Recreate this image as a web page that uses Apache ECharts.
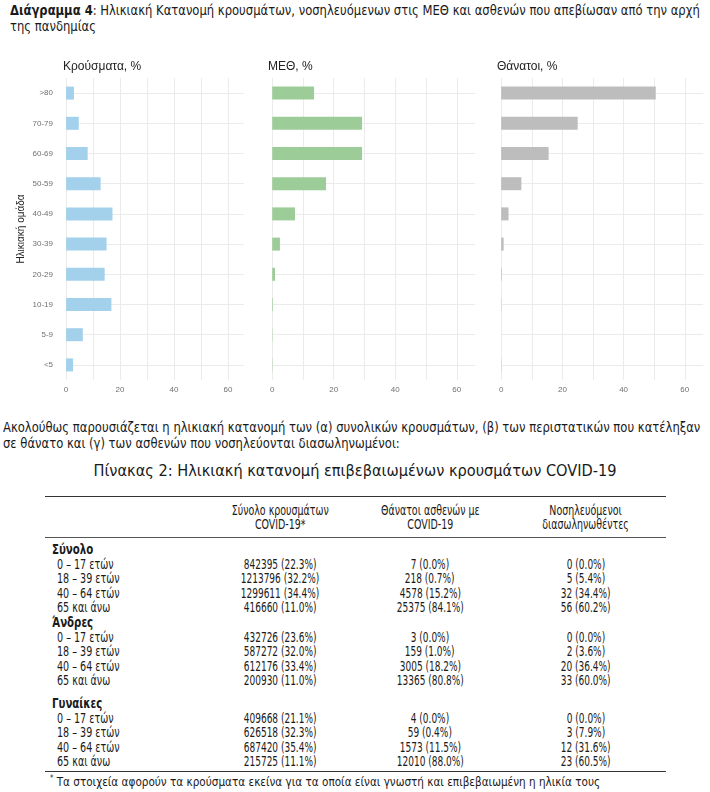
<!DOCTYPE html>
<html>
<head>
<meta charset="utf-8">
<script src="https://cdn.jsdelivr.net/npm/echarts@6/dist/echarts.min.js"></script>
<style>
  html, body { margin: 0; padding: 0; background: #fff; }
  body { width: 710px; height: 792px; position: relative; overflow: hidden;
         font-family: "DejaVu Sans Condensed", "Liberation Sans Narrow", "Roboto Condensed", "Noto Sans", sans-serif; color: #1a1a1a; }
  #chart { position: absolute; left: 0; top: 0; width: 710px; height: 400px; }
  #title { position: absolute; left: 10px; top: 2px; width: 760px; font-size: 14px; line-height: 16px;
           transform: scaleX(0.92); transform-origin: 0 0; }
  #para { position: absolute; left: 3px; top: 419px; width: 738px; font-size: 13.5px; line-height: 16px;
          transform: scaleX(0.955); transform-origin: 0 0; }
  #ttitle { position: absolute; left: 0; top: 461px; width: 710px; text-align: center; font-size: 16.2px; line-height: 20px; }
  #tbl { position: absolute; left: 45px; top: 496px; width: 621px; border-collapse: collapse; font-size: 13.5px; }
  #tbl td, #tbl th { padding: 0; font-weight: normal; white-space: nowrap; }
  #tbl thead th { height: 40px; line-height: 14px; text-align: center; vertical-align: middle;
                  border-top: 1.5px solid #333; border-bottom: 1px solid #555; }
  #tbl tbody td { height: 14.6px; line-height: 14.6px; }
  #tbl td.v { text-align: center; }
  #tbl td.g { font-weight: bold; padding-left: 7px; }
  #tbl td.l { padding-left: 12px; }
  #tbl tr.sp td { height: 8px; line-height: 8px; }
  #tbl tr.first td { padding-top: 4px; }
  #tbl tr.last td { border-bottom: 1.5px solid #333; padding-bottom: 2px; }
  .s { display: inline-block; transform: scaleX(0.74); transform-origin: 50% 50%; }
  .sh { display: inline-block; transform: scaleX(0.78); transform-origin: 50% 50%; }
  .sl { display: inline-block; transform: scaleX(0.79); transform-origin: 0 50%; }
  .sg { display: inline-block; transform: scaleX(0.84); transform-origin: 0 50%; }
  #foot { position: absolute; left: 50px; top: 771px; width: 640px; font-size: 12.5px; line-height: 16px;
          transform: scaleX(0.93); transform-origin: 0 0; white-space: nowrap; }
  #foot sup { font-size: 8px; vertical-align: 5px; }
</style>
</head>
<body>
<div id="title"><b>Διάγραμμα 4</b>: Ηλικιακή Κατανομή κρουσμάτων, νοσηλευόμενων στις ΜΕΘ και ασθενών που απεβίωσαν από την αρχή της πανδημίας</div>
<div id="chart"></div>
<div id="para">Ακολούθως παρουσιάζεται η ηλικιακή κατανομή των (α) συνολικών κρουσμάτων, (β) των περιστατικών που κατέληξαν σε θάνατο και (γ) των ασθενών που νοσηλεύονται διασωληνωμένοι:</div>
<div id="ttitle">Πίνακας 2: Ηλικιακή κατανομή επιβεβαιωμένων κρουσμάτων COVID-19</div>
<table id="tbl">
  <colgroup><col style="width:160px"><col style="width:150px"><col style="width:150px"><col style="width:161px"></colgroup>
  <thead><tr id="hdr"></tr></thead>
  <tbody id="tb"></tbody>
</table>
<div id="foot"><sup>*</sup> Τα στοιχεία αφορούν τα κρούσματα εκείνα για τα οποία είναι γνωστή και επιβεβαιωμένη η ηλικία τους</div>
<script>
// ---- Chart data ----
const ageGroups = ['<5', '5-9', '10-19', '20-29', '30-39', '40-49', '50-59', '60-69', '70-79', '>80'];
const casesPct  = [2.6, 6.2, 16.8, 14.3, 15.0, 17.2, 12.8, 8.0, 4.7, 2.9];
const icuPct    = [0.1, 0.1, 0.2, 0.9, 2.5, 7.4, 17.5, 29.2, 29.2, 13.6];
const deathsPct = [0.1, 0.0, 0.1, 0.2, 0.8, 2.4, 6.6, 15.5, 25.0, 50.5];
const panelTitles = ['Κρούσματα, %', 'ΜΕΘ, %', 'Θάνατοι, %'];
const xTickLabels = [0, 20, 40, 60];
const xGridValues = [0, 10, 20, 30, 40, 50, 60];

// ---- Table data ----
const tableHeaders = ['', 'Σύνολο κρουσμάτων<br>COVID-19*', 'Θάνατοι ασθενών με<br>COVID-19', 'Νοσηλευόμενοι<br>διασωληνωθέντες'];
const groupNames = ['Σύνολο', 'Άνδρες', 'Γυναίκες'];
const rowLabels = ['0 – 17 ετών', '18 – 39 ετών', '40 – 64 ετών', '65 και άνω'];
const casesCol = [
  ['842395 (22.3%)', '1213796 (32.2%)', '1299611 (34.4%)', '416660 (11.0%)'],
  ['432726 (23.6%)', '587272 (32.0%)', '612176 (33.4%)', '200930 (11.0%)'],
  ['409668 (21.1%)', '626518 (32.3%)', '687420 (35.4%)', '215725 (11.1%)']
];
const deathsCol = [
  ['7 (0.0%)', '218 (0.7%)', '4578 (15.2%)', '25375 (84.1%)'],
  ['3 (0.0%)', '159 (1.0%)', '3005 (18.2%)', '13365 (80.8%)'],
  ['4 (0.0%)', '59 (0.4%)', '1573 (11.5%)', '12010 (88.0%)']
];
const intubatedCol = [
  ['0 (0.0%)', '5 (5.4%)', '32 (34.4%)', '56 (60.2%)'],
  ['0 (0.0%)', '2 (3.6%)', '20 (36.4%)', '33 (60.0%)'],
  ['0 (0.0%)', '3 (7.9%)', '12 (31.6%)', '23 (60.5%)']
];

// build table
document.getElementById('hdr').innerHTML = tableHeaders.map(h => '<th><span class="sh">' + h + '</span></th>').join('');
let html = '';
const v = t => '<td class="v"><span class="s">' + t + '</span></td>';
groupNames.forEach((g, gi) => {
  if (gi === 2) html += '<tr class="sp"><td></td><td></td><td></td><td></td></tr>';
  html += '<tr' + (gi === 0 ? ' class="first"' : '') + '><td class="g"><span class="sg">' + g + '</span></td><td></td><td></td><td></td></tr>';
  rowLabels.forEach((r, ri) => {
    const last = (gi === 2 && ri === 3);
    html += '<tr' + (last ? ' class="last"' : '') + '><td class="l"><span class="sl">' + r + '</span></td>' +
            v(casesCol[gi][ri]) + v(deathsCol[gi][ri]) + v(intubatedCol[gi][ri]) + '</tr>';
  });
});
document.getElementById('tb').innerHTML = html;

// ---- Chart ----
const panels = [
  { left: 58,  width: 178, data: casesPct,  color: '#a3d1ec' },
  { left: 263, width: 203, data: icuPct,    color: '#9ccc98' },
  { left: 492, width: 202, data: deathsPct, color: '#bdbdbd' }
];
const gridTop = 78, gridH = 302;
const ff = "'Liberation Sans', Arial, sans-serif";
const chart = echarts.init(document.getElementById('chart'), null, { renderer: 'canvas' });
const labelFont = { fontFamily: ff, fontSize: 8, color: '#707070' };
const option = {
  animation: false,
  title: panels.map((p, i) => ({
    text: panelTitles[i], left: p.left, top: 56,
    textStyle: { fontFamily: ff, fontSize: 12, fontWeight: 'normal', color: '#222' }
  })),
  grid: panels.map(p => ({ left: p.left, width: p.width, top: gridTop, height: gridH })),
  xAxis: panels.map((p, i) => ({
    type: 'value', gridIndex: i, min: -3, max: 63,
    axisLine: { show: false },
    splitLine: { show: false },
    axisTick: { show: true, customValues: xGridValues, inside: true, length: gridH,
                lineStyle: { color: '#ebebeb', width: 1 } },
    axisLabel: Object.assign({ customValues: xTickLabels, margin: 6 }, labelFont)
  })),
  yAxis: panels.map((p, i) => ({
    type: 'category', gridIndex: i, data: ageGroups,
    axisLine: { show: false },
    splitLine: { show: false },
    axisTick: { show: true, alignWithLabel: true, inside: true, length: p.width,
                lineStyle: { color: '#ebebeb', width: 1 } },
    axisLabel: Object.assign({ show: i === 0, margin: 5 }, labelFont),
    name: i === 0 ? 'Ηλικιακή ομάδα' : '',
    nameLocation: 'middle', nameRotate: 90, nameGap: 32,
    nameTextStyle: { fontFamily: ff, fontSize: 10, color: '#222' }
  })),
  series: panels.map((p, i) => ({
    type: 'bar', xAxisIndex: i, yAxisIndex: i, data: p.data,
    barWidth: 13, itemStyle: { color: p.color }, silent: true
  }))
};
chart.setOption(option);
</script>
</body>
</html>
